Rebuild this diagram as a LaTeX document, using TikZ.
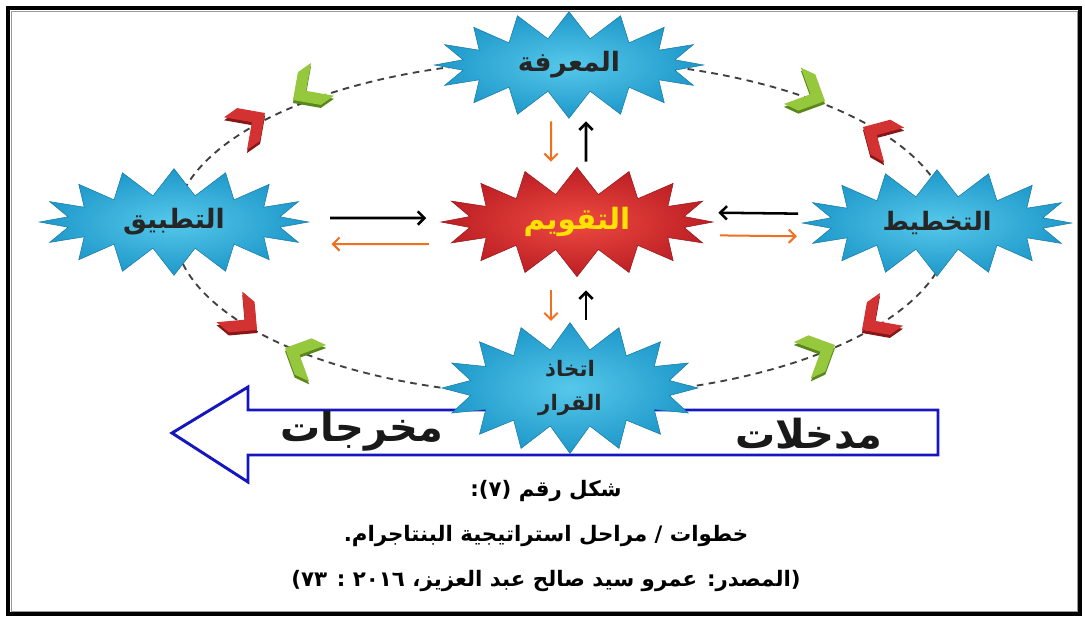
\documentclass[tikz,border=0pt]{standalone}
\usepackage{fontspec}
\newfontfamily\arfont[Script=Arabic]{DejaVu Sans}
\TeXXeTstate=1
\usetikzlibrary{shapes.symbols,arrows.meta}
\definecolor{skyin}{RGB}{86,200,234}
\definecolor{skyout}{RGB}{30,152,202}
\definecolor{redin}{RGB}{238,74,64}
\definecolor{redout}{RGB}{188,30,36}
\definecolor{orng}{RGB}{240,112,32}
\definecolor{navy}{RGB}{22,22,190}
\definecolor{chr}{RGB}{210,50,50}
\definecolor{chrd}{RGB}{135,22,22}
\definecolor{chg}{RGB}{150,200,62}
\definecolor{chgd}{RGB}{90,135,28}
\tikzset{
 burst/.style={starburst,starburst points=16,random starburst=0,starburst point height=20pt,
  inner sep=0pt,minimum width=202pt,minimum height=80pt,font=\arfont\bfseries\fontsize{20}{24}\selectfont},
 sky/.style={burst,inner color=skyin,outer color=skyout,draw=skyout!80!black,text=black!85},
 hot/.style={burst,inner color=redin,outer color=redout,draw=redout!80!black,text=yellow!85!orange},
 blk/.style={line width=1.9pt,-{Straight Barb[length=5pt,width=10pt]}},
 org/.style={blk,draw=orng,line width=1.5pt},
 ring/.style={dash pattern=on 5pt off 4pt,line width=1.4pt,black!75},
 big/.style={font=\arfont\bfseries\fontsize{30}{34}\selectfont,text=black!90},
 captext/.style={font=\arfont\bfseries\fontsize{16}{19}\selectfont},
 chev/.pic={\fill[pic actions] (0,0)--(-20,20)--(-36,20)--(-16,0)--(-36,-20)--(-20,-20)--cycle;}
}
\begin{document}
\begin{tikzpicture}[x=0.75pt,y=-0.75pt]
\useasboundingbox (0,0) rectangle (1085,619);
\draw[line width=3pt] (8,8) rectangle (1080,614);
\draw[black!40,line width=0.6pt] (11,11) rectangle (1077,611);
\coordinate (mid) at (562,228);
\draw[ring] (mid) ellipse [x radius=388,y radius=168];
\foreach \px/\py/\ang/\col in {265/113/35/chr,293/100/215/chg,825/101/-25/chg,863/127/150/chr,
 862/330/215/chr,835/345/25/chg,257/330/-40/chr,285/348/155/chg}{
 \pic[fill=\col d,rotate=\ang] at (\px,\py+3) {chev};
 \pic[fill=\col,rotate=\ang] at (\px,\py) {chev};
}
\draw[navy,line width=2.2pt] (938,410)--(248,410)--(248,387)--(172,433)--(248,482)--(248,455)--(938,455)--cycle;
\node[big] (outs) at (362,431) {\beginR مخرجات\endR};
\node[big] (ins) at (809,434) {\beginR مدخلات\endR};
\node[sky] (know) at (569,65) {\beginR المعرفة\endR};
\node[hot,minimum width=204pt,minimum height=82pt,font=\arfont\bfseries\fontsize{22}{26}\selectfont]
 (eval) at (577,222) {\beginR التقويم\endR};
\node[sky] (apply) at (174,222) {\beginR التطبيق\endR};
\node[sky,font=\arfont\bfseries\fontsize{19}{22}\selectfont] (plan) at (937,223) {\beginR التخطيط\endR};
\node[sky,minimum width=192pt,minimum height=82pt,align=center,font=\arfont\bfseries\fontsize{16}{25}\selectfont]
 (decide) at (570,388) {\beginR اتخاذ\endR\\\beginR القرار\endR};
\draw[org,shorten <=2pt,shorten >=4pt] ([xshift=-13.5pt]know.south) -- ([xshift=-19.5pt]eval.north);
\draw[blk,shorten <=4pt,shorten >=2pt] ([xshift=6.75pt]eval.north) -- ([xshift=12.75pt]know.south);
\draw[org,shorten <=10pt,shorten >=1pt] ([xshift=-19.5pt]eval.south) -- ([xshift=-14.25pt]decide.north);
\draw[blk,shorten <=2pt,shorten >=10pt] ([xshift=12pt]decide.north) -- ([xshift=6.75pt]eval.south);
\draw[blk,shorten <=15pt,shorten >=10pt] ([yshift=3pt]apply.east) -- ([yshift=3pt]eval.west);
\draw[org,shorten <=8pt,shorten >=16pt] ([yshift=-16.5pt]eval.west) -- ([yshift=-16.5pt]apply.east);
\draw[blk,shorten <=2pt,shorten >=3pt] ([yshift=7pt]plan.west) -- ([yshift=7pt]eval.east);
\draw[org,shorten <=4pt,shorten >=3pt] ([yshift=-10pt]eval.east) -- ([yshift=-10pt]plan.west);
\node[captext] (c1) at (546,491) {\beginR شكل رقم (٧):\endR};
\node[captext] (c2) at (546,536) {\beginR خطوات / مراحل استراتيجية البنتاجرام.\endR};
\node[captext] (c3) at (546,581) {\beginR (المصدر: عمرو سيد صالح عبد العزيز، ٢٠١٦ : ٧٣)\endR};
\end{tikzpicture}
\end{document}
